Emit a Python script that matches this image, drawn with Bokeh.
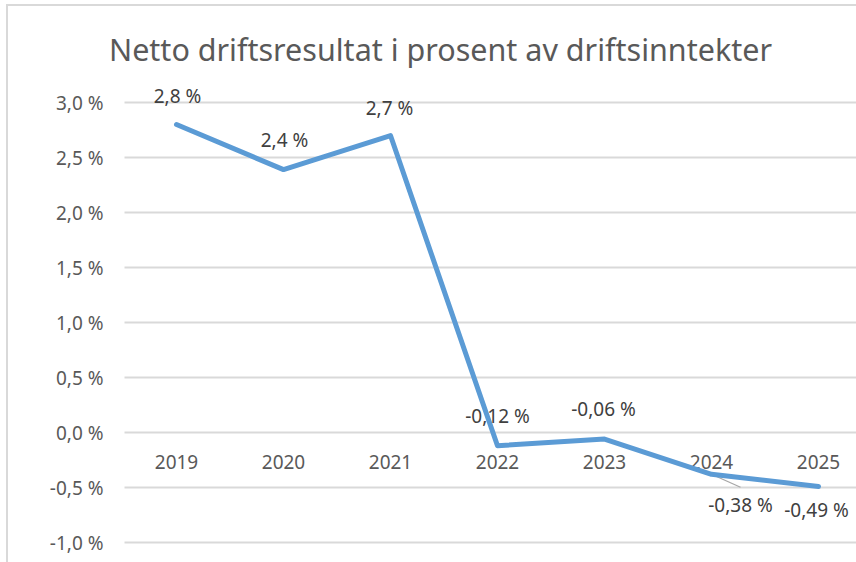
from bokeh.plotting import figure
from bokeh.models import Range1d, FixedTicker, Label, ColumnDataSource
from bokeh.core.properties import value
from bokeh.embed import file_html
from bokeh.resources import INLINE

# ---- data ----
years = ["2019", "2020", "2021", "2022", "2023", "2024", "2025"]
result_pct = [2.8, 2.39, 2.7, -0.12, -0.06, -0.38, -0.49]
point_labels = ["2,8 %", "2,4 %", "2,7 %", "-0,12 %", "-0,06 %", "-0,38 %", "-0,49 %"]
y_ticks = [-1.0, -0.5, 0.0, 0.5, 1.0, 1.5, 2.0, 2.5, 3.0]
y_tick_labels = ["-1,0 %", "-0,5 %", "0,0 %", "0,5 %", "1,0 %", "1,5 %", "2,0 %", "2,5 %", "3,0 %"]
title_text = "Netto driftsresultat i prosent av driftsinntekter"

# ---- styling ----
FONT = "Noto Sans"
AXIS_COLOR = "#595959"
LABEL_COLOR = "#404040"
GRID_COLOR = "#d9d9d9"
LINE_COLOR = "#5b9bd5"

W, H = 856, 562
BL, BR, BT, BB = 105, 0, 0, 7
PLOT_LEFT = 124          # where the plot area (gridlines) starts, px
FIRST_CAT = 176          # px position of first category
px_x = 107.0
px_y = 110.0
x_start = -(FIRST_CAT - BL) / px_x
x_end = x_start + (W - BL - BR) / px_x
y_start = -1.118
y_end = y_start + (H - BT - BB) / px_y
grid_x0 = x_start + (PLOT_LEFT - BL) / px_x

# label pixel offsets (screen, +y downward)
lab_dx = [1, 1, -1, 0, -1, 29, -2]
lab_dy = [-29, -30, -28, -30, -30, 31, 24]

xs = list(range(len(years)))

p = figure(width=W, height=H, output_backend="svg", toolbar_location=None,
           x_range=Range1d(x_start, x_end), y_range=Range1d(y_start, y_end),
           x_axis_location=None, min_border_left=BL, min_border_right=BR,
           min_border_top=BT, min_border_bottom=BB)
p.styles = {"box-shadow": "inset 6px 4px 0 0 white, inset 8px 6px 0 0 #d9d9d9"}
p.outline_line_color = None
p.background_fill_color = None
p.border_fill_color = None

p.xgrid.visible = False
p.ygrid.visible = False

# horizontal gridlines over the plot area
p.segment(x0=grid_x0, x1=x_end, y0=y_ticks, y1=y_ticks,
          line_color=GRID_COLOR, line_width=2)

ax = p.yaxis[0]
ax.ticker = FixedTicker(ticks=y_ticks)
ax.major_label_overrides = {t: s for t, s in zip(y_ticks, y_tick_labels)}
ax.axis_line_color = None
ax.major_tick_line_color = None
ax.minor_tick_line_color = None
ax.major_tick_in = 0
ax.major_tick_out = 0
ax.major_label_standoff = 2
ax.major_label_text_font = FONT
ax.major_label_text_font_size = "19px"
ax.major_label_text_color = AXIS_COLOR

src = ColumnDataSource(dict(x=xs, y=result_pct, lab=point_labels, yr=years,
                            dx=lab_dx, dy=lab_dy))

# year labels at the zero line
p.text(x="x", y=0, text="yr", source=src, y_offset=29, text_align="center",
       text_baseline="middle", text_font=value(FONT), text_font_size="19px",
       text_color=AXIS_COLOR)

# leader line for 2024 label
i24 = years.index("2024")
p.segment(x0=[xs[i24]], y0=[result_pct[i24]],
          x1=[xs[i24] + 29 / px_x], y1=[result_pct[i24] - 13 / px_y],
          line_color="#a6a6a6", line_width=1.2)

p.line(x="x", y="y", source=src, line_color=LINE_COLOR, line_width=5,
       line_join="round", line_cap="round")

p.text(x="x", y="y", text="lab", source=src, x_offset="dx", y_offset="dy",
       text_align="center", text_baseline="middle", text_font=value(FONT),
       text_font_size="19px", text_color=LABEL_COLOR)

p.add_layout(Label(x=440 - BL, y=(H - BB) - 48, x_units="screen", y_units="screen",
                   text=title_text, text_align="center", text_baseline="middle",
                   text_font=FONT, text_font_size="30.5px", text_color=AXIS_COLOR))

open("out.html", "w").write(file_html(p, INLINE))
